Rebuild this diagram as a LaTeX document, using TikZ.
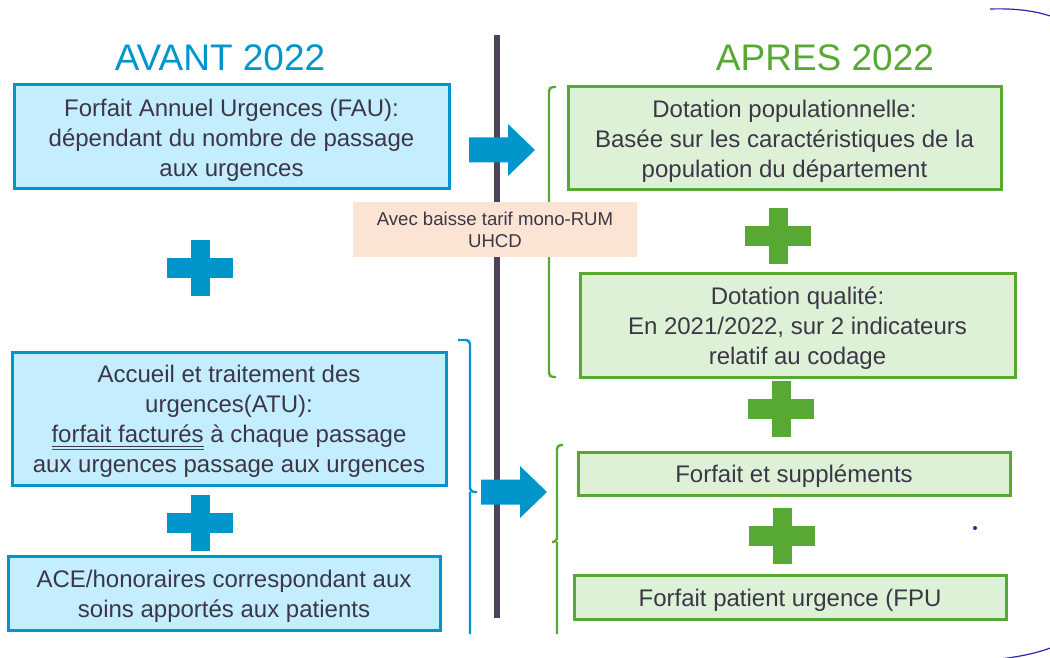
\documentclass[tikz,border=0pt]{standalone}
\usepackage{fontspec}
\setmainfont{Liberation Sans}
\usetikzlibrary{positioning}
\definecolor{avantblue}{RGB}{0,150,204}
\definecolor{avantfill}{RGB}{196,238,253}
\definecolor{apresgreen}{RGB}{88,168,52}
\definecolor{apresfill}{RGB}{221,241,214}
\definecolor{peach}{RGB}{251,228,212}
\definecolor{txt}{RGB}{60,55,72}
\definecolor{divider}{RGB}{76,66,90}
\definecolor{navy}{RGB}{40,40,170}
\tikzstyle{avantbox}=[draw=avantblue, fill=avantfill, line width=1.5pt, text=txt, align=center, inner sep=0pt, font=\fontsize{12}{15}\selectfont]
\tikzstyle{apresbox}=[draw=apresgreen, fill=apresfill, line width=1.5pt, text=txt, align=center, inner sep=0pt, font=\fontsize{12}{15}\selectfont]
\tikzstyle{title}=[inner sep=0pt, font=\fontsize{18.5}{22}\selectfont]
\tikzstyle{bracket}=[line width=1.2pt, rounded corners=2pt]
\newcommand{\avant}{\node[avantbox]}
\newcommand{\apres}{\node[apresbox]}
% taller first line, pushes the text a little down
\newcommand{\boxstrut}{\rule{0pt}{11.8pt}}
% plus sign centred at (#1,#2)
\newcommand{\plusmark}[3]{%
  \fill[#3] ({#1-33},{#2-10}) rectangle ({#1+33},{#2+10});
  \fill[#3] ({#1-9.5},{#2-28}) rectangle ({#1+9.5},{#2+28});}
% block arrow, left end at (#1,#2)
\newcommand{\blockarrow}[2]{%
  \fill[avantblue] (#1,{#2-12.5}) -- ({#1+39},{#2-12.5}) -- ({#1+39},{#2-26})
    -- ({#1+66},#2) -- ({#1+39},{#2+26}) -- ({#1+39},{#2+12.5}) -- (#1,{#2+12.5}) -- cycle;}
\newsavebox{\markbox}
\newcommand{\spellmark}[1]{\sbox{\markbox}{#1}%
  \rlap{\color{txt}\rule[-2.2pt]{\wd\markbox}{0.5pt}}%
  \rlap{\color{navy!60!avantblue}\rule[-3.6pt]{\wd\markbox}{0.7pt}}\usebox{\markbox}}

\begin{document}
\begin{tikzpicture}[x=0.5pt, y=-0.5pt]
            \useasboundingbox (0,0) rectangle (1050,658);
            \clip (0,0) rectangle (1050,658);

            % divider
            \draw[divider, line width=3pt] (497,35) -- (497,618);

            % titles
            \node[title, text=avantblue] (avant) at (220,58) {AVANT 2022};
            \node[title, text=apresgreen] (apres) at (825,58) {APRES 2022};

            % left column
            \avant (fau) at (231.5,137) [minimum width=217.5pt, minimum height=52pt]
                {\boxstrut Forfait Annuel Urgences (FAU):\\dépendant du nombre de passage\\aux urgences};
            \avant (atu) at (229,418.5) [minimum width=217pt, minimum height=66.5pt]
                {\boxstrut Accueil et traitement des\\urgences(ATU):\\\spellmark{forfait facturés} à chaque passage\\aux urgences passage aux urgences};
            \avant (ace) at (224,593) [minimum width=216pt, minimum height=37pt]
                {\boxstrut ACE/honoraires correspondant aux\\soins apportés aux patients};
            \plusmark{200}{268}{avantblue}
            \plusmark{200}{523}{avantblue}

            % right column
            \apres (pop) at (784.5,138.5) [minimum width=216.5pt, minimum height=51.5pt]
                {\boxstrut Dotation populationnelle:\\Basée sur les caractéristiques de la\\population du département};
            \apres (qual) at (797.5,325) [minimum width=217.5pt, minimum height=52pt]
                {\boxstrut Dotation qualité:\\En 2021/2022, sur 2 indicateurs\\relatif au codage};
            \apres (supp) at (794,473.5) [minimum width=216pt, minimum height=21.5pt]
                {\boxstrut Forfait et suppléments};
            \apres (fpu) at (790,597) [minimum width=216pt, minimum height=22pt]
                {\boxstrut Forfait patient urgence (FPU};
            \plusmark{778}{236}{apresgreen}
            \plusmark{781}{409}{apresgreen}
            \plusmark{782}{536}{apresgreen}

            % brackets
            \draw[bracket, avantblue] (458,340) -- (470,340) -- (470,492) -- (477,492)
                (470,492) -- (470,634);
            \draw[bracket, apresgreen] (556,87) -- (549,87) -- (549,377) -- (556,377);
            \draw[bracket, apresgreen] (563,445) -- (557,445) -- (557,542) -- (552,542)
                (557,542) -- (557,634);

            % arrows
            \blockarrow{469}{150}
            \blockarrow{481}{492}

            % note on the divider
            \node[fill=peach, text=txt, align=center, inner sep=0pt, minimum width=142pt,
                minimum height=27.5pt, font=\fontsize{9.3}{11}\selectfont] (note) at (495,229.5)
                {Avec baisse tarif mono-RUM\\UHCD};

            % slide decorations
            \fill[navy] (975,528) circle (1pt);
            \draw[navy, line width=0.6pt] (990,9) .. controls (1020,8) and (1040,12) .. (1056,18);
            \draw[navy, line width=0.6pt] (1000,659) .. controls (1025,656) and (1040,652) .. (1056,646);
        \end{tikzpicture}
\end{document}
